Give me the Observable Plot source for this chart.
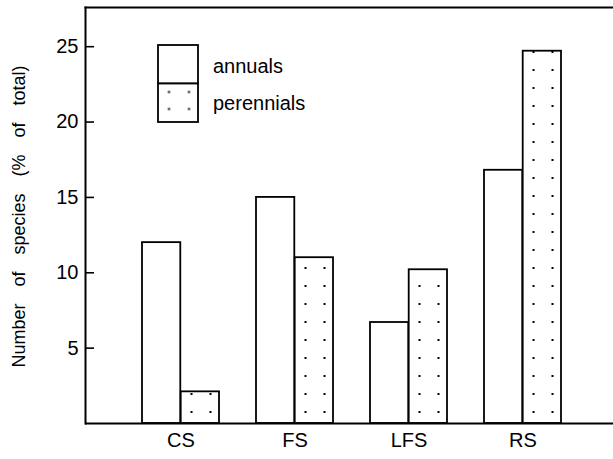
<!DOCTYPE html>
<html><head><meta charset="utf-8">
<script src="https://cdn.jsdelivr.net/npm/d3@7"></script>
<script src="https://cdn.jsdelivr.net/npm/@observablehq/plot@0.6"></script>
<style>
html,body{margin:0;padding:0;background:#fff;}
#wrap{position:relative;width:613px;height:459px;}
#wrap svg{position:absolute;left:0;top:0;}
#wrap text.ylab{word-spacing:12px;font-size:18px;}
</style></head><body>
<svg width="0" height="0" style="position:absolute"><defs id="defs"></defs></svg>
<div id="wrap"></div>
<script>
const groups = ["CS", "FS", "LFS", "RS"];
const annuals = [12.0, 15.0, 6.7, 16.8];
const perennials = [2.1, 11.0, 10.2, 24.7];
const seriesNames = ["annuals", "perennials"];
const yTicks = [5, 10, 15, 20, 25];
const yMax = 27.6;
const yLabel = "Number of species (% of total)";

const table = groups.map((g, i) => ({group: g, annuals: annuals[i], perennials: perennials[i]}));
const W = 613, H = 459, mL = 85, mR = 0, mT = 7, mB = 36;
const xOpts = {type: "band", domain: groups, range: [mL, W - mR], paddingInner: 0.321, paddingOuter: 0.476, align: 0.528};
const xs = Plot.scale({x: xOpts});
const bw = xs.bandwidth;
const ys = Plot.scale({y: {type: "linear", domain: [0, yMax], range: [H - mB, mT]}});

// dotted fill pattern, aligned on the perennial bars
const defs = d3.select("#defs");
const pat = defs.append("pattern").attr("id", "dots").attr("patternUnits", "userSpaceOnUse")
  .attr("x", xs.apply(groups[0]) + bw / 2 + 1).attr("y", ys.apply(0) - 20)
  .attr("width", 19).attr("height", 18);
pat.append("rect").attr("width", 19).attr("height", 18).attr("fill", "#fff");
pat.append("rect").attr("x", 8.5).attr("y", 8).attr("width", 2).attr("height", 2).attr("fill", "#000");

const font = "'Liberation Sans', Arial, sans-serif";
const chart = Plot.plot({
  width: W, height: H, marginLeft: mL, marginRight: mR, marginTop: mT, marginBottom: mB,
  style: {fontFamily: font, fontSize: "20px", background: "#fff", color: "#000", overflow: "visible"},
  x: {...xOpts, label: null},
  y: {domain: [0, yMax], label: null},
  marks: [
    Plot.barY(table, {x: "group", y: "annuals", fill: "#fff", stroke: "#000", strokeWidth: 1.8, insetRight: bw / 2}),
    Plot.barY(table, {x: "group", y: "perennials", fill: "url(#dots)", stroke: "#000", strokeWidth: 1.8, insetLeft: bw / 2}),
    Plot.ruleY([0], {strokeWidth: 2}),
    Plot.frame({anchor: "top", strokeWidth: 2}),
    Plot.frame({anchor: "left", strokeWidth: 2}),
    Plot.axisY({ticks: yTicks, tickSize: -9, tickPadding: 16, strokeWidth: 1.6, label: null, fontSize: 20}),
    Plot.axisX({tickSize: 0, tickPadding: 9, label: null, fontSize: 20}),
    Plot.text([yLabel], {frameAnchor: "left", textAnchor: "middle", rotate: -90, dx: -66, dy: 1, fontSize: 18})
  ]
});
d3.select(chart).selectAll("text").filter(function() { return this.textContent === yLabel; }).classed("ylab", true);
document.getElementById("wrap").appendChild(chart);

// legend
const leg = d3.select("#wrap").append("svg").attr("width", W).attr("height", H);
const lp = leg.append("defs").append("pattern").attr("id", "ldots").attr("patternUnits", "userSpaceOnUse")
  .attr("x", 159.5).attr("y", 83.5).attr("width", 20).attr("height", 17);
lp.append("rect").attr("width", 20).attr("height", 17).attr("fill", "#fff");
lp.append("rect").attr("x", 8.5).attr("y", 7.5).attr("width", 2).attr("height", 2).attr("fill", "#000");
seriesNames.forEach((name, i) => {
  leg.append("rect").attr("x", 158).attr("y", 45 + i * 38.5).attr("width", 40).attr("height", 38.5)
    .attr("fill", i === 0 ? "#fff" : "url(#ldots)").attr("stroke", "#000").attr("stroke-width", 1.8);
  leg.append("text").attr("x", 213).attr("y", 73 + i * 37).attr("font-family", font).attr("font-size", 20)
    .attr("fill", "#000").text(name);
});
</script>
</body></html>
